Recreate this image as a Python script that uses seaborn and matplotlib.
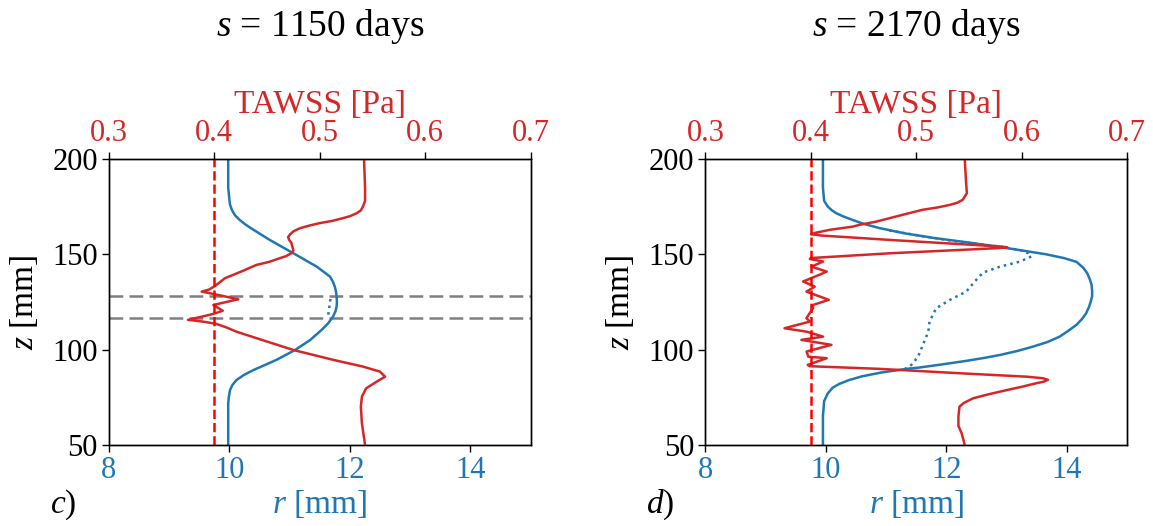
import numpy as np
import pandas as pd
import matplotlib
matplotlib.use("Agg")
import matplotlib.pyplot as plt
import seaborn as sns

# ---- radius profiles r(z) [mm] ----
z_r_c = [200, 185, 178.5, 176, 173.3, 170.5, 168, 165.5, 162.8, 157.5, 150, 143.5,
         138.3, 135.5, 133, 130.4, 127.8, 125, 122.6, 120, 117.3, 113.8, 110.3, 105,
         99.8, 94.6, 89.3, 86.7, 84.1, 81.5, 78.8, 75, 71.9, 60, 50]
r_c = [9.98, 9.98, 10.0, 10.01, 10.04, 10.09, 10.17, 10.27, 10.40, 10.67, 11.09, 11.45,
       11.67, 11.72, 11.75, 11.77, 11.78, 11.785, 11.78, 11.76, 11.72, 11.64, 11.53, 11.34,
       11.09, 10.78, 10.40, 10.24, 10.12, 10.05, 10.01, 9.99, 9.98, 9.98, 9.98]

z_r_d = [200, 185, 178, 175, 173, 171.5, 169.8, 168, 166, 163.7, 161, 158.5, 156,
         154, 152, 150, 148, 146, 143, 140, 137, 134, 131, 128, 125.5, 122.5, 119, 116, 113,
         110, 106.8, 104, 101.6, 99.3, 97.2, 95.6, 94.1, 92.8, 91.6, 90.6, 89.9, 88,
         86, 84, 82, 80, 77, 73, 65, 50]
r_d = [9.95, 9.95, 9.97, 10.03, 10.10, 10.17, 10.29, 10.44, 10.62, 10.89, 11.3, 11.8, 12.4,
       12.85, 13.25, 13.65, 13.95, 14.16, 14.27, 14.34, 14.38, 14.41, 14.42, 14.42, 14.40, 14.37, 14.32,
       14.25, 14.16, 14.03, 13.88, 13.68, 13.44, 13.18, 12.89, 12.62, 12.33, 12.05, 11.78, 11.55,
       11.34, 10.92, 10.6, 10.38, 10.22, 10.11, 10.03, 9.97, 9.95, 9.95]

# dotted radius profiles
z_dot_c = [126.5, 125.2, 122.6, 120.0, 118.2]
r_dot_c = [11.68, 11.67, 11.66, 11.65, 11.64]

z_dot_d = [162.5, 160, 157, 154, 152, 150.5, 148.8, 146.1, 143.5, 140.4, 135.7, 130.4,
           126.1, 121.7, 114.7, 109.4, 102.5, 96.3, 92.0, 89.6]
r_dot_d = [11.05, 11.5, 12.1, 12.9, 13.25, 13.36, 13.41, 13.22, 12.89, 12.61, 12.47, 12.33,
           12.06, 11.83, 11.72, 11.70, 11.61, 11.53, 11.42, 11.30]

# ---- TAWSS profiles [Pa] ----
z_t_c = [200, 185, 178, 175, 173, 171.5, 170, 168.9, 167.5, 166.3, 165, 163.6, 162, 160.5,
         159, 157.5, 156, 154, 152, 150.5, 149, 147.9, 146, 144.4, 142.5, 141.5, 137.4, 133.5,
         131.5, 130.4, 129.2, 126.4, 123.4, 120.4, 118.7, 115.6, 114.7, 113.5, 111.5, 109.4,
         105.1, 99.8, 94.6, 91.1, 88.5, 85.8, 83.2, 79.7, 75.3, 70.1, 61.4, 50]
t_c = [0.542, 0.543, 0.543, 0.541, 0.539, 0.535, 0.529, 0.522, 0.512, 0.500, 0.490, 0.481, 0.475, 0.472,
       0.470, 0.471, 0.473, 0.474, 0.475, 0.473, 0.468, 0.462, 0.452, 0.440, 0.432, 0.428, 0.410, 0.401,
       0.395, 0.388, 0.399, 0.4227, 0.399, 0.408, 0.399, 0.375, 0.389, 0.402, 0.412, 0.421,
       0.445, 0.475, 0.513, 0.541, 0.557, 0.562, 0.554, 0.544, 0.540, 0.539, 0.540, 0.543]

z_t_d = [200, 190, 182, 178.5, 177, 175.9, 174.5, 173.3, 171.5, 169.8, 167.1, 165.4, 164.5,
         162.8, 161.2, 160.5, 159.8, 157.5, 154.2, 153.7, 153.2, 150.5, 148, 147.5, 146.2,
         143.5, 140.9, 139.2, 135.7, 133.0, 130.4, 126.1, 123.4, 121.7, 116.5, 114.7, 111.2,
         109.4, 106.8, 105.1, 102.5, 99.0, 96.3, 95.5, 92.0, 91.3, 89.9, 87.5, 85.8, 85.0,
         84.2, 83.2, 82.4, 80.5, 78.8, 76.5, 74.5, 72, 70.1, 65, 60, 56.2, 50]
t_d = [0.546, 0.547, 0.548, 0.544, 0.539, 0.532, 0.520, 0.506, 0.493, 0.481, 0.462, 0.446, 0.440,
       0.418, 0.404, 0.400, 0.410, 0.475, 0.575, 0.586, 0.578, 0.475, 0.400, 0.399, 0.4116,
       0.4006, 0.415, 0.408, 0.3926, 0.4037, 0.3958, 0.417, 0.402, 0.402, 0.3958, 0.399, 0.375,
       0.396, 0.4116, 0.391, 0.4195, 0.396, 0.3975, 0.415, 0.397, 0.399, 0.4655, 0.545, 0.605, 0.620,
       0.625, 0.621, 0.614, 0.600, 0.586, 0.568, 0.554, 0.545, 0.541, 0.540, 0.540, 0.543, 0.546]

tawss_threshold = 0.4
band_c = [128, 116.5]

titles = ["$s$ = 1150 days", "$s$ = 2170 days"]
panel_tags = ["$c$)", "$d$)"]
r_ticks = [8, 10, 12, 14]
t_ticks = [0.3, 0.4, 0.5, 0.6, 0.7]
z_ticks = [50, 100, 150, 200]

BLUE = "#1f77b4"
RED = "#d62728"

sns.set_theme(style="ticks")
plt.rcParams["font.family"] = ["Liberation Serif", "DejaVu Serif"]
plt.rcParams["mathtext.fontset"] = "custom"
plt.rcParams["mathtext.rm"] = "Liberation Serif"
plt.rcParams["mathtext.it"] = "Liberation Serif:italic"
plt.rcParams["axes.edgecolor"] = "black"
plt.rcParams["text.color"] = "black"
plt.rcParams["axes.labelcolor"] = "black"
plt.rcParams["xtick.color"] = "black"
plt.rcParams["ytick.color"] = "black"
plt.rcParams["axes.linewidth"] = 1.0

TICK_FS = 22
LABEL_FS = 24
TITLE_FS = 27

fig, axes = plt.subplots(1, 2, figsize=(11.53, 5.26), dpi=100)
fig.subplots_adjust(left=0.0945, right=0.9775, bottom=0.154, top=0.698, wspace=0.415)

panels = [
    (z_r_c, r_c, z_dot_c, r_dot_c, z_t_c, t_c, band_c),
    (z_r_d, r_d, z_dot_d, r_dot_d, z_t_d, t_d, None),
]

for i, (ax, (zr, rr, zdot, rdot, zt, tt, band)) in enumerate(zip(axes, panels)):
    df_r = pd.DataFrame({"r": rr, "z": zr})
    df_dot = pd.DataFrame({"r": rdot, "z": zdot})
    df_t = pd.DataFrame({"t": tt, "z": zt})

    sns.lineplot(data=df_r, x="r", y="z", sort=False, estimator=None, ax=ax,
                 color=BLUE, lw=1.8)
    sns.lineplot(data=df_dot, x="r", y="z", sort=False, estimator=None, ax=ax,
                 color=BLUE, lw=1.8, linestyle=":")
    if band is not None:
        for zb in band:
            ax.axhline(zb, color="grey", lw=1.8, dashes=(5.5, 2.5), zorder=1)

    ax.set_xlim(8, 15)
    ax.set_ylim(50, 200)
    ax.set_xticks(r_ticks)
    ax.set_yticks(z_ticks)
    ax.tick_params(axis="x", labelcolor=BLUE, labelsize=TICK_FS, length=5, width=1, pad=3)
    ax.tick_params(axis="y", labelsize=TICK_FS, length=5, width=1, pad=3)
    ax.set_xlabel("$r$ [mm]", color=BLUE, fontsize=LABEL_FS, labelpad=2)
    ax.set_ylabel("$z$ [mm]", fontsize=LABEL_FS, labelpad=9)

    ax2 = ax.twiny()
    sns.lineplot(data=df_t, x="t", y="z", sort=False, estimator=None, ax=ax2,
                 color=RED, lw=1.8)
    ax2.axvline(tawss_threshold, color="red", ls="--", lw=1.8)
    ax2.set_xlim(0.3, 0.7)
    ax2.set_ylim(50, 200)
    ax2.set_xticks(t_ticks)
    ax2.set_xticklabels([f"{t:.1f}" for t in t_ticks])
    ax2.tick_params(axis="x", labelcolor=RED, labelsize=TICK_FS, length=5, width=1, pad=3)
    ax2.set_xlabel("TAWSS [Pa]", color=RED, fontsize=LABEL_FS, labelpad=4)
    for sp in ax2.spines.values():
        sp.set_color("black")

    pos = ax.get_position()
    cx = (pos.x0 + pos.x1) / 2
    fig.text(cx, 1 - 36 / 526, titles[i], ha="center", va="baseline", fontsize=TITLE_FS)
    fig.text(pos.x0 - 59 / 1153, 1 - 513 / 526, panel_tags[i], ha="left", va="baseline",
             fontsize=LABEL_FS)

fig.savefig("out.png", dpi=100)
